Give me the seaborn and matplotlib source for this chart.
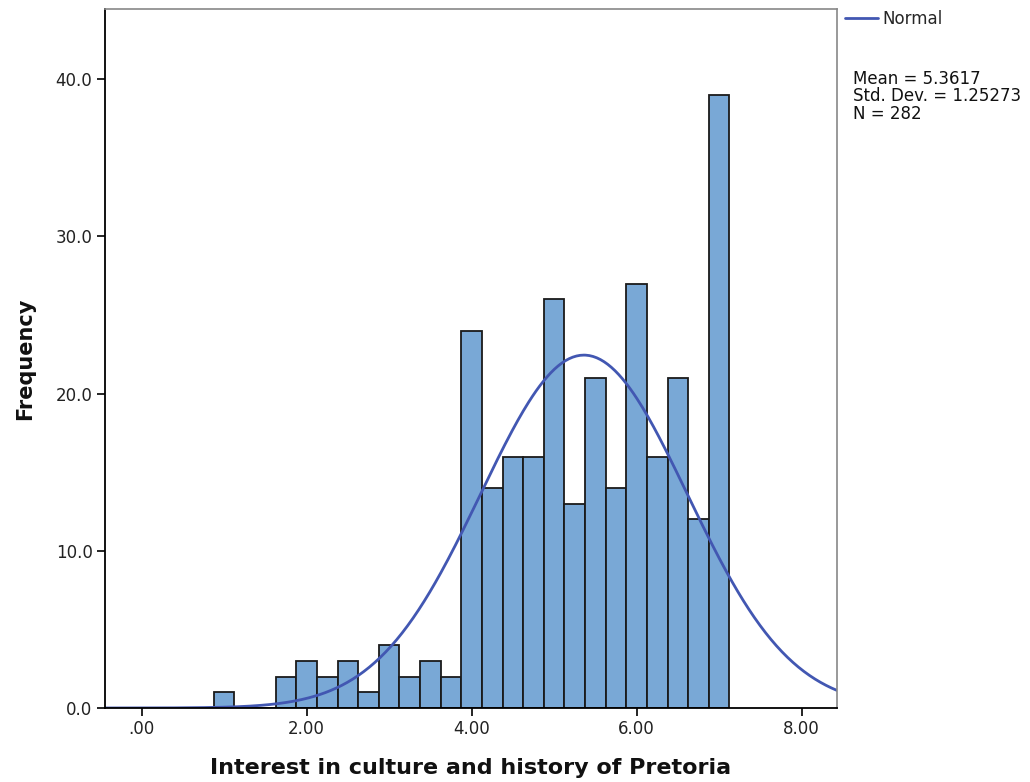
import numpy as np
import pandas as pd
import matplotlib
matplotlib.use("Agg")
import matplotlib.pyplot as plt
import seaborn as sns

# Data
bin_centers = [1.0, 1.25, 1.5, 1.75, 2.0, 2.25, 2.5, 2.75, 3.0, 3.25, 3.5, 3.75,
               4.0, 4.25, 4.5, 4.75, 5.0, 5.25, 5.5, 5.75, 6.0, 6.25, 6.5, 6.75, 7.0]
counts = [1, 0, 0, 2, 3, 2, 3, 1, 4, 2, 3, 2,
          24, 14, 16, 16, 26, 13, 21, 14, 27, 16, 21, 12, 39]
bin_width = 0.25
mean_val = 5.3617
std_val = 1.25273
n_val = 282
x_ticks = [0, 2, 4, 6, 8]
x_tick_labels = [".00", "2.00", "4.00", "6.00", "8.00"]
y_ticks = [0, 10, 20, 30, 40]
y_tick_labels = ["0.0", "10.0", "20.0", "30.0", "40.0"]

sns.set_style("white")
plt.rcParams['font.family'] = ['DejaVu Sans']

df = pd.DataFrame({"value": bin_centers, "count": counts})
edges = [float(c - bin_width / 2) for c in bin_centers] + [bin_centers[-1] + bin_width / 2]

fig = plt.figure(figsize=(10.30, 7.82), dpi=100)
ax = fig.add_axes([105 / 1030, 1 - 708 / 782, (837 - 105) / 1030, (708 - 9) / 782])

sns.histplot(data=df, x="value", weights="count", bins=edges, ax=ax,
             color="#79A8D6", edgecolor="#1a1a1a", linewidth=1.3, alpha=1.0)

xlim = (-0.445, 8.43)
xs = np.linspace(xlim[0], xlim[1], 400)
ys = n_val * bin_width * np.exp(-0.5 * ((xs - mean_val) / std_val) ** 2) / (std_val * np.sqrt(2 * np.pi))
ax.plot(xs, ys, color="#4257B2", linewidth=2.0, label="Normal")

ax.set_xlim(*xlim)
ax.set_ylim(0, 44.47)
ax.set_xticks(x_ticks)
ax.set_xticklabels(x_tick_labels)
ax.set_yticks(y_ticks)
ax.set_yticklabels(y_tick_labels)
ax.tick_params(axis='both', direction='out', length=6, width=1.2, color='black',
               labelsize=12, labelcolor='#222222', pad=3, bottom=True, left=True)

for side in ['left', 'bottom']:
    ax.spines[side].set_color('black')
    ax.spines[side].set_linewidth(1.3)
for side in ['top', 'right']:
    ax.spines[side].set_visible(True)
    ax.spines[side].set_color('#888888')
    ax.spines[side].set_linewidth(1.2)

ax.set_xlabel("Interest in culture and history of Pretoria", fontsize=16,
              fontweight='bold', color='#111111', labelpad=14)
ax.set_ylabel("Frequency", fontsize=15, fontweight='bold', color='#111111', labelpad=15)

leg = ax.legend(loc='upper left', bbox_to_anchor=(845 / 1030, 1 - 10 / 782),
                bbox_transform=fig.transFigure, frameon=False, fontsize=12,
                handlelength=2.0, handletextpad=0.25, borderpad=0, borderaxespad=0)

fig.text(853 / 1030, 1 - 70 / 782,
         f"Mean = {mean_val:.4f}\nStd. Dev. = {std_val:.5f}\nN = {n_val}",
         fontsize=12, va='top', ha='left', linespacing=0.95, color='#111111')

fig.savefig("out.png", dpi=100)
